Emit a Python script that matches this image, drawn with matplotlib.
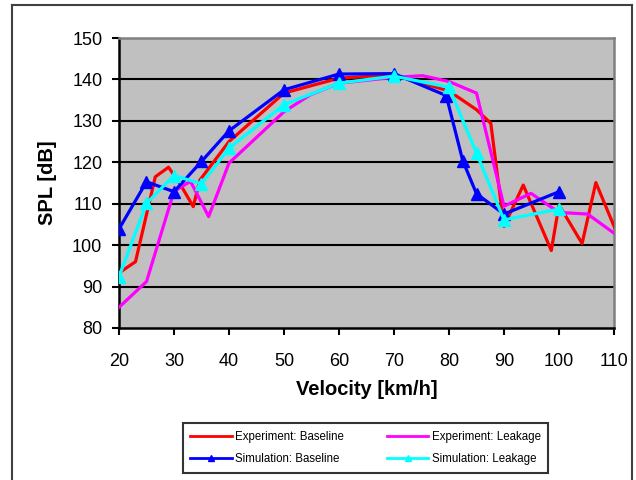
import matplotlib
matplotlib.use("Agg")
import matplotlib.pyplot as plt
from matplotlib.lines import Line2D

plt.rcParams['font.family'] = ['Liberation Sans', 'DejaVu Sans']

# Experiment data (no markers)
exp_base_v = [20, 23, 26.6, 29, 31, 33.5, 34.7, 40, 50, 60, 70, 80, 85, 87.6, 90, 93.5, 98.6, 100, 104.2, 106.7, 110.5]
exp_base_spl = [93.3, 96, 116.5, 118.8, 115, 109.3, 115.7, 125, 136.7, 140.3, 141.1, 137.2, 132.7, 129.4, 104.5, 114.5, 98.7, 109.7, 100.4, 115.1, 103]

exp_leak_v = [20, 25, 30, 33, 36.3, 40, 50, 54.8, 60, 70, 75.2, 80, 85, 90, 94.9, 100, 105.2, 110]
exp_leak_spl = [85, 91.2, 113, 115.4, 106.9, 119.8, 132.2, 136.3, 139.1, 140.5, 140.9, 139.5, 136.7, 109.4, 112.5, 107.9, 107.5, 102.9]

# Simulation data (triangle markers)
sim_base_v = [20, 25, 30, 35, 40, 50, 60, 70, 79.5, 82.5, 85, 90, 100]
sim_base_spl = [103.9, 115.3, 112.9, 120.2, 127.6, 137.5, 141.3, 141.4, 136.1, 120.4, 112.4, 107.5, 112.9]

sim_leak_v = [20, 25, 30, 35, 40, 50, 60, 70, 80, 85, 90, 100]
sim_leak_spl = [92.4, 110.1, 116.8, 114.8, 123.4, 133.9, 139.1, 140.8, 138.1, 122.2, 106.1, 108.7]

x_ticks = [20, 30, 40, 50, 60, 70, 80, 90, 100, 110]
y_ticks = [80, 90, 100, 110, 120, 130, 140, 150]

fig = plt.figure(figsize=(6.36, 4.8), dpi=100)
ax = fig.add_axes([119 / 636, 1 - 328 / 480, (614 - 119) / 636, (328 - 38) / 480])
ax.set_facecolor('#C0C0C0')

# horizontal grid lines
for yv in y_ticks[1:-1]:
    ax.axhline(yv, color='black', linewidth=1.5, zorder=1)

lw = 2.3
ax.plot(exp_base_v, exp_base_spl, color='#FF0000', linewidth=lw, zorder=3, label='Experiment: Baseline')
ax.plot(exp_leak_v, exp_leak_spl, color='#FF00FF', linewidth=lw, zorder=3, label='Experiment: Leakage')
ax.plot(sim_base_v, sim_base_spl, color='#0000FF', linewidth=lw, marker='^', markersize=9, zorder=4,
        label='Simulation: Baseline')
ax.plot(sim_leak_v, sim_leak_spl, color='#00FFFF', linewidth=lw, marker='^', markersize=9, zorder=5,
        label='Simulation: Leakage')

ax.set_xlim(20, 110)
ax.set_ylim(80, 150)
ax.set_xticks(x_ticks)
ax.set_yticks(y_ticks)
ax.tick_params(axis='both', labelsize=13, direction='out', length=5, width=1.5, color='black')
ax.tick_params(axis='x', pad=13)
ax.tick_params(axis='y', pad=7)

for s in ['left', 'bottom']:
    ax.spines[s].set_color('black')
    ax.spines[s].set_linewidth(1.8)
for s in ['top', 'right']:
    ax.spines[s].set_color('#808080')
    ax.spines[s].set_linewidth(1.8)

ax.set_xlabel('Velocity [km/h]', fontsize=14.5, fontweight='bold', labelpad=7)
ax.set_ylabel('SPL [dB]', fontsize=14.5, fontweight='bold', labelpad=11)

handles = [
    Line2D([], [], color='#FF0000', linewidth=2),
    Line2D([], [], color='#0000FF', linewidth=2, marker='^', markersize=5),
    Line2D([], [], color='#FF00FF', linewidth=2),
    Line2D([], [], color='#00FFFF', linewidth=2, marker='^', markersize=5),
]
labels = ['Experiment: Baseline', 'Simulation: Baseline',
          'Experiment: Leakage', 'Simulation: Leakage']
leg = fig.legend(handles, labels, ncol=2, loc='center', bbox_to_anchor=(365.5 / 636, 1 - 448 / 480),
                 fontsize=8.3, frameon=True, fancybox=False, edgecolor='black', handlelength=3.6,
                 handletextpad=0.3, columnspacing=3.7, borderpad=0.65, labelspacing=0.9)
leg.get_frame().set_linewidth(1.5)

# outer chart-area frame
fig.add_artist(Line2D([12 / 636, 12 / 636], [0, 1 - 5 / 480], transform=fig.transFigure, color='#404040', linewidth=1.5))
fig.add_artist(Line2D([12 / 636, 632 / 636], [1 - 5 / 480, 1 - 5 / 480], transform=fig.transFigure, color='#404040', linewidth=1.5))
fig.add_artist(Line2D([632 / 636, 632 / 636], [0, 1 - 5 / 480], transform=fig.transFigure, color='#404040', linewidth=1.5))

fig.savefig('out.png', dpi=100)
